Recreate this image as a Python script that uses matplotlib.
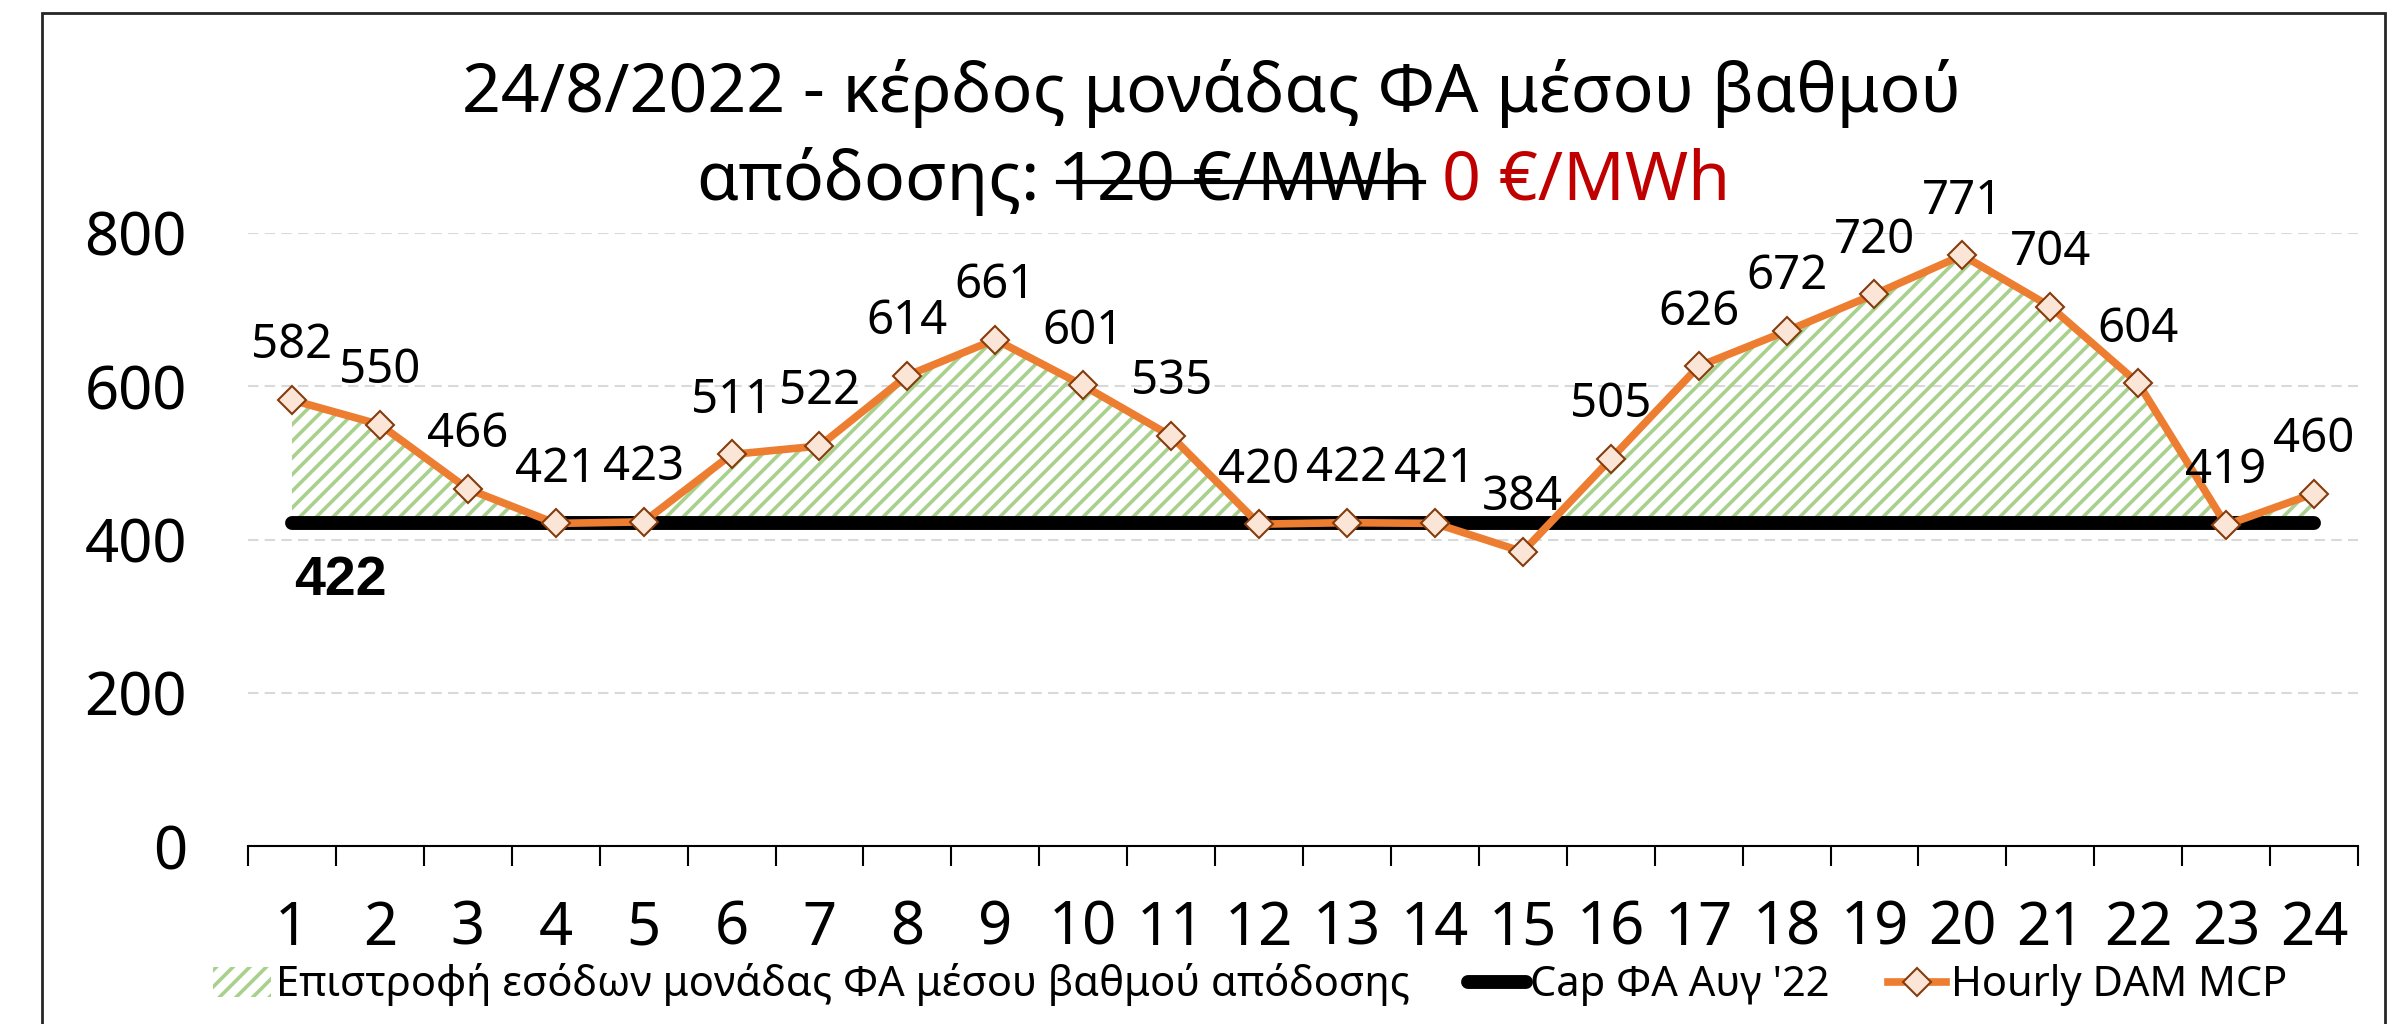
import matplotlib
matplotlib.use("Agg")
import matplotlib.pyplot as plt
from matplotlib.patches import Patch, Rectangle
from matplotlib.lines import Line2D
import numpy as np

plt.rcParams['font.family'] = ['Noto Sans', 'DejaVu Sans']
plt.rcParams['hatch.linewidth'] = 2.6

# data
hours = np.arange(1, 25)
mcp = np.array([582, 550, 466, 421, 423, 511, 522, 614, 661, 601, 535, 420,
                422, 421, 384, 505, 626, 672, 720, 771, 704, 604, 419, 460])
cap = np.array([422] * 24)
y_ticks = [0, 200, 400, 600, 800]

title_1 = '24/8/2022 - κέρδος μονάδας ΦΑ μέσου βαθμού'
title_2 = ['απόδοσης:', '120 €/MWh', '0 €/MWh']
legend_labels = ['Επιστροφή εσόδων μονάδας ΦΑ μέσου βαθμού απόδοσης',
                 "Cap ΦΑ Αυγ '22", 'Hourly DAM MCP']

ORANGE = '#ED7D31'
GREEN = '#A9D18E'
W, H = 2398, 1024


def main():
    fig = plt.figure(figsize=(W / 100, H / 100), dpi=100)
    ax = fig.add_axes([248 / W, 1 - 846 / H, (2358 - 248) / W, (846 - 233) / H])

    ax.fill_between(hours, mcp, cap, where=mcp > cap, interpolate=True,
                    facecolor='none', edgecolor=GREEN, hatch='//', lw=0, zorder=2)
    ax.plot(hours, cap, color='black', lw=10, solid_capstyle='round', zorder=3)
    ax.plot(hours, mcp, color=ORANGE, lw=5.5, marker='D', ms=14,
            mfc='#FBE5D6', mec='#843C0C', mew=1.5, zorder=4)

    for h, v in zip(hours, mcp):
        ax.annotate(str(v), (h, v), xytext=(0, 39), textcoords='offset points',
                    ha='center', va='center', fontsize=34, zorder=5,
                    annotation_clip=False)
    ax.annotate(str(cap[0]), (hours[0], cap[0]), xytext=(35, -42),
                textcoords='offset points', ha='center', va='center',
                fontsize=40, fontweight='bold', family='Liberation Sans')

    ax.set_xlim(0.5, 24.5)
    ax.set_ylim(0, 800)
    ax.set_xticks(hours)
    ax.set_xticklabels([str(h) for h in hours])
    ax.set_xticks(np.arange(0.5, 25), minor=True)
    ax.tick_params(axis='x', which='major', length=0, pad=38, labelsize=43)
    ax.tick_params(axis='x', which='minor', length=14.5, width=1.5, color='black')
    ax.set_yticks(y_ticks)
    ax.tick_params(axis='y', length=0, pad=44, labelsize=43)

    for s in ['top', 'right', 'left']:
        ax.spines[s].set_visible(False)
    ax.spines['bottom'].set_color('black')
    ax.spines['bottom'].set_linewidth(1.5)
    ax.spines['bottom'].set_zorder(6)
    ax.yaxis.grid(True, color='#D9D9D9', lw=1.5, linestyle=(0, (5, 3)))
    ax.set_axisbelow(True)

    # title, first line
    fig.text(1212 / W, 1 - 112 / H, title_1, ha='center', va='baseline', fontsize=49)

    # title, second line: mixed colours + strikethrough
    r = fig.canvas.get_renderer()
    y2 = 1 - 200 / H
    colors = ['black', 'black', '#C00000']
    texts = [fig.text(0, y2, s, color=c, fontsize=49, ha='left', va='baseline')
             for s, c in zip(title_2, colors)]
    widths = [t.get_window_extent(r).width for t in texts]
    gap = 18
    x = 1213 - (sum(widths) + gap * 2) / 2
    for t, w in zip(texts, widths):
        t.set_x(x / W)
        x += w + gap
    bb = texts[1].get_window_extent(r)
    ys = y2 + 18 / H
    fig.add_artist(Line2D([bb.x0 / W, bb.x1 / W], [ys, ys], transform=fig.transFigure,
                          color='black', lw=3))

    handles = [Patch(facecolor='none', edgecolor=GREEN, hatch='//', lw=0),
               Line2D([], [], color='black', lw=10, solid_capstyle='round'),
               Line2D([], [], color=ORANGE, lw=5.5, marker='D', ms=14,
                      mfc='#FBE5D6', mec='#843C0C', mew=1.5)]
    fig.legend(handles, legend_labels, loc='center', bbox_to_anchor=(1250 / W, 1 - 985 / H),
               ncol=3, frameon=False, fontsize=30, handlelength=1.4,
               handletextpad=0.1, columnspacing=1.4, borderpad=0)

    fig.patches.append(Rectangle((42 / W, -0.05), (2385 - 42) / W, 1.05 - 13 / H,
                                 transform=fig.transFigure, fill=False,
                                 ec='#262626', lw=2))

    fig.savefig('out.png', dpi=100)


if __name__ == "__main__":
    main()
